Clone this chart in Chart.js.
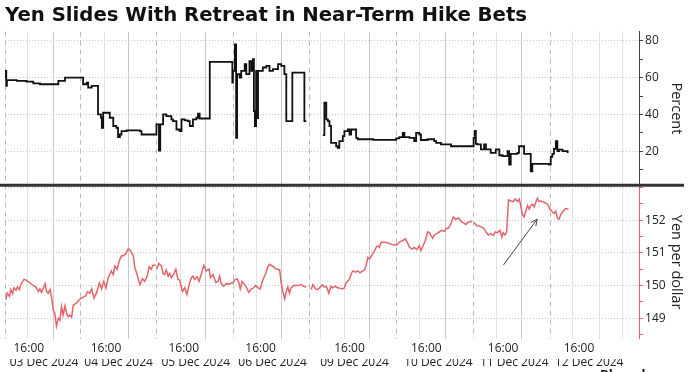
<!DOCTYPE html>
<html>
<head>
<meta charset="utf-8">
<title>Yen Slides With Retreat in Near-Term Hike Bets</title>
<script src="https://cdn.jsdelivr.net/npm/chart.js@4.4.1/dist/chart.umd.min.js"></script>
<style>
  html, body { margin: 0; padding: 0; background: #fff; }
  #wrap { width: 691px; height: 372px; position: relative; }
</style>
</head>
<body>
<div id="wrap"><canvas id="yen-chart"></canvas></div>
<script>
// x values are trading hours counted from the first session (weekend left out)

// odds of a near-term BOJ hike, percent (step series)
const pctHours = [
  0, 0.2, 0.4, 0.6, 3.7, 6.8, 8.9, 11.0, 16.8, 18.9,
  24.6, 25.7, 26.2, 27.3, 29.3, 30.2, 30.5, 30.9, 33.0, 34.1,
  35.1, 35.6, 36.2, 36.7, 38.3, 42.5, 43.0, 47.7, 48.5, 48.9,
  49.8, 50.8, 52.4, 52.9, 54.0, 55.0, 55.6, 56.6, 57.6, 58.2,
  59.2, 60.3, 60.8, 61.3, 64.5, 71.6, 71.8, 72.4, 72.8, 73.1,
  73.9, 74.4, 75.5, 76.0, 77.0, 77.6, 78.1, 78.4, 78.7, 79.1,
  79.4, 79.7, 81.2, 82.3, 83.3, 84.4, 86.0, 87.0, 88.0, 88.6,
  90.5, 94.3, 94.9, 95.0,
  100.1, 100.6, 101.2, 101.7, 102.2, 102.7, 104.3, 104.8, 105.3, 106.4,
  106.9, 108.0, 108.5, 109.0, 110.6, 111.1, 116.0, 123.2, 124.2, 125.3,
  125.8, 127.4, 128.9, 129.5, 130.5, 131.0, 133.1, 135.2, 135.8, 137.3,
  140.5, 147.6, 148.0, 148.3, 148.8, 149.9, 150.9, 151.5, 153.0, 154.6,
  155.7, 156.7, 158.3, 158.8, 159.3, 161.4, 161.9, 163.5, 165.6, 166.1,
  171.4, 171.9, 172.4, 172.9, 173.5, 174.0, 174.5, 175.6, 177.2
];
const pctValues = [
  60.0, 63.7, 55.5, 58.6, 58.2, 57.8, 56.9, 56.4, 58.2, 60.0,
  56.4, 57.3, 54.6, 55.5, 40.0, 38.2, 32.7, 40.9, 38.2, 33.7,
  32.7, 27.7, 29.1, 30.9, 31.3, 30.9, 29.1, 34.6, 20.4, 34.6,
  40.0, 39.1, 37.3, 36.4, 31.8, 30.9, 37.3, 36.8, 36.4, 33.7,
  37.3, 38.2, 40.4, 37.8, 68.6, 57.3, 63.7, 78.0, 27.3, 61.9,
  60.0, 63.7, 67.3, 61.9, 69.0, 63.7, 70.0, 41.8, 33.7, 63.7,
  38.0, 63.7, 65.5, 66.4, 63.7, 64.6, 67.3, 66.4, 61.9, 36.4,
  62.7, 36.4, 36.4, null,
  28.7, 46.4, 37.3, 36.4, 33.7, 24.5, 22.7, 21.8, 25.5, 28.2,
  30.9, 31.8, 29.1, 31.8, 27.3, 26.5, 26.2, 27.0, 27.7, 30.0,
  27.7, 27.3, 25.5, 30.0, 29.1, 26.1, 26.5, 25.5, 24.5, 23.7,
  22.7, 27.3, 31.0, 24.0, 23.7, 21.0, 23.7, 21.0, 19.1, 21.0,
  17.8, 17.3, 20.0, 12.7, 18.6, 19.1, 22.7, 18.6, 9.1, 13.1,
  12.7, 17.0, 18.6, 21.3, 25.5, 20.0, 20.9, 20.0, 19.1
];

// USD/JPY, yen per dollar
const fxHours = [
  0.3, 0.7, 1.4, 1.8, 2.4, 2.8, 3.5, 3.9, 4.5, 5.2,
  6.0, 6.8, 7.9, 8.9, 9.7, 10.5, 11.0, 11.5, 12.1, 12.6,
  13.1, 13.6, 14.2, 14.7, 15.2, 15.7, 16.2, 16.8, 17.3, 17.8,
  18.3, 18.9, 19.4, 19.9, 20.4, 21.0, 21.5, 22.5, 23.6, 24.6,
  25.5, 25.9, 26.7, 27.3, 28.0, 28.8, 29.7, 30.4, 31.1, 31.8,
  32.5, 33.5, 34.1, 34.6, 35.3, 36.0, 36.7, 37.4, 38.1, 38.8,
  39.5, 40.4, 40.9, 41.6, 42.5, 43.3, 44.0, 44.8, 45.4, 46.1,
  46.6, 47.5, 47.7, 47.9, 48.5, 49.3, 49.8, 50.3, 50.8, 51.4,
  51.9, 52.4, 53.1, 53.8, 54.5, 55.0, 55.9, 56.6, 57.3, 58.0,
  58.7, 59.2, 59.7, 60.5, 61.1, 61.8, 62.6, 63.4, 64.3, 64.7,
  65.5, 66.4, 67.1, 67.6, 68.1, 68.9, 69.7, 70.8, 71.3, 71.8,
  72.3, 73.1, 73.7, 74.1, 74.7, 75.5, 76.0, 76.8, 77.6, 78.3,
  78.9, 79.7, 80.4, 81.2, 82.1, 82.8, 83.3, 84.2, 85.2, 86.5,
  87.0, 87.5, 88.1, 88.6, 89.1, 89.6, 90.1, 90.9, 92.2, 93.3,
  94.0, 94.9, 95.5, 96.4, 97.0, 97.8, 98.5, 99.3, 99.9, 100.6,
  101.2, 102.0, 102.7, 103.2, 104.1, 104.8, 105.3, 106.2, 106.9, 107.4,
  108.3, 109.0, 109.5, 110.4, 111.1, 111.8, 112.7, 113.2, 113.7, 114.3,
  114.8, 115.3, 115.8, 116.4, 116.9, 117.4, 117.9, 118.5, 119.5, 120.5,
  121.6, 122.6, 123.4, 124.2, 125.3, 126.1, 126.8, 127.4, 128.2, 128.9,
  129.7, 130.5, 131.0, 131.8, 132.4, 133.1, 133.7, 134.2, 134.7, 135.2,
  136.0, 136.8, 137.6, 138.4, 138.9, 139.7, 140.5, 141.2, 142.0, 142.9,
  143.6, 144.3, 145.2, 145.7, 146.4, 147.1, 147.4, 147.8, 148.5, 149.4,
  150.2, 150.9, 151.5, 152.3, 153.0, 153.8, 154.4, 155.1, 155.9, 156.5,
  156.9, 157.5, 158.0, 158.6, 159.3, 160.1, 160.7, 161.4, 162.0, 162.5,
  163.0, 163.5, 164.0, 164.6, 165.1, 165.6, 166.1, 166.7, 167.2, 167.7,
  168.2, 168.8, 169.8, 170.9, 171.6, 172.4, 173.0, 173.5, 174.0, 174.5,
  175.1, 175.8, 176.6, 177.5
];
const fxValues = [
  149.56, 149.77, 149.67, 149.88, 149.75, 149.93, 149.86, 149.96, 149.88, 150.08,
  150.19, 150.16, 150.08, 150.00, 149.96, 149.82, 149.90, 149.79, 149.93, 150.06,
  149.82, 149.77, 149.88, 149.62, 149.25, 149.15, 148.76, 149.00, 148.94, 149.36,
  149.10, 149.38, 149.15, 149.05, 149.10, 149.03, 149.41, 149.46, 149.59, 149.65,
  149.69, 149.81, 149.77, 149.90, 149.62, 149.77, 150.08, 149.90, 150.13, 149.93,
  150.24, 150.45, 150.34, 150.60, 150.50, 150.76, 150.91, 150.91, 150.99, 151.12,
  151.07, 150.91, 150.55, 150.34, 150.03, 150.21, 150.13, 150.29, 150.58, 150.50,
  150.62, 150.62, null, 150.52, 150.68, 150.60, 150.37, 150.34, 150.48, 150.29,
  150.37, 150.24, 150.34, 150.50, 150.19, 150.17, 149.82, 149.93, 149.72, 150.03,
  150.24, 150.29, 150.19, 150.27, 150.13, 150.34, 150.62, 150.45, 150.50, 150.24,
  150.34, 150.10, 150.13, 150.29, 150.06, 149.98, 150.06, 150.05, 150.08, 150.08,
  150.17, 150.21, 150.08, 149.90, 150.13, 150.03, 149.96, 149.79, 149.90, 149.93,
  150.00, 149.93, 149.90, 150.17, 150.37, 150.58, 150.65, 150.60, 150.52, 150.48,
  150.08, 149.82, 149.59, 149.82, 149.96, 149.77, 149.93, 150.00, 150.00, 150.03,
  149.98, 149.96, null, 149.88, 150.03, 149.90, 149.88, 149.96, 150.03, 149.96,
  149.98, 149.77, 149.98, 149.93, 149.98, 149.93, 149.93, 149.90, 149.93, 150.08,
  150.17, 150.34, 150.45, 150.41, 150.45, 150.39, 150.45, 150.48, 150.60, 150.86,
  150.81, 150.89, 150.96, 151.07, 151.17, 151.22, 151.17, 151.33, 151.33, 151.31,
  151.27, 151.24, 151.24, 151.33, 151.38, 151.43, 151.31, 151.17, 151.12, 151.17,
  151.10, 151.22, 151.07, 151.24, 151.38, 151.64, 151.62, 151.53, 151.45, 151.55,
  151.59, 151.64, 151.69, 151.66, 151.74, 151.76, 151.90, 152.10, 152.03, 152.07,
  151.97, 151.93, 151.87, 151.93, 151.95, 151.97, null, 151.93, 151.84, 151.82,
  151.79, 151.74, 151.64, 151.55, 151.59, 151.53, 151.64, 151.62, 151.69, 151.48,
  151.62, 151.55, 151.64, 152.62, 152.59, 152.57, 152.65, 152.57, 152.65, 152.41,
  152.18, 152.10, 152.26, 152.45, 152.34, 152.45, 152.49, 152.41, 152.55, 152.67,
  152.57, 152.59, 152.55, 152.49, 152.34, 152.26, 152.21, 152.28, 152.07, 152.03,
  152.18, 152.28, 152.36, 152.34
];

// axis ticks and labels
const timeTickHours = [7.5, 31.8, 56.3, 80.5, 108.5, 132.7, 156.9, 180.8];
const dateTickHours = [12.3, 35.8, 60.1, 84.3, 110.1, 136.5, 160.4, 184.0];
const dateLabels = ['03 Dec 2024', '04 Dec 2024', '05 Dec 2024', '06 Dec 2024',
  '09 Dec 2024', '10 Dec 2024', '11 Dec 2024', '12 Dec 2024'];
const pctTicks = [10, 20, 30, 40, 50, 60, 70, 80];
const fxTicks = [148.5, 149, 149.5, 150, 150.5, 151, 151.5, 152, 152.5, 153];

// vertical grid
const dayBreakHours = [0, 23.6, 47.5, 71.7, 95.6, 123.3, 147.5, 171.7];
const lightGridHours = [6.9, 31.1, 55.0, 79.2, 99.1, 106.9, 130.5, 154.7, 178.6, 187.1, 194.3];
const darkGridHours = [15.1, 38.7, 62.9, 86.8, 114.5, 138.7, 162.6];

// arrow drawn on the yen panel: [hour, yen]
const arrowFrom = [157.0, 150.63];
const arrowTo = [167.6, 152.03];

const labelFont = { family: '"Open Sans", sans-serif', size: 12 };
const timeLabelFont = { family: '"Open Sans", sans-serif', size: 12, lineHeight: 1.34 };
const dateLabelFont = { family: '"Open Sans", sans-serif', size: 12, lineHeight: 0.67 };
const axisTitleFont = { family: '"Open Sans", sans-serif', size: 14.5 };
const RED = '#e2646c';

function toPoints(xs, ys) {
  return xs.map((x, i) => ({ x, y: ys[i] }));
}

const decorations = {
  id: 'decorations',
  beforeDatasetsDraw(chart) {
    const { ctx, chartArea, scales } = chart;
    const xs = scales.x;
    const lines = (hours, color, dash) => {
      ctx.save();
      ctx.strokeStyle = color;
      ctx.lineWidth = 1;
      ctx.setLineDash(dash);
      hours.forEach(h => {
        const px = Math.round(xs.getPixelForValue(h)) + 0.5;
        ctx.beginPath();
        ctx.moveTo(px, chartArea.top);
        ctx.lineTo(px, chartArea.bottom);
        ctx.stroke();
      });
      ctx.restore();
    };
    lines(lightGridHours, '#e3e3e3', []);
    lines(darkGridHours, '#c9c9c9', []);
    lines(dayBreakHours, '#bbbbbb', [5, 4]);
  },
  afterDraw(chart) {
    const { ctx, scales } = chart;
    const top = scales.y.top < scales.y2.top ? scales.y : scales.y2;

    // separator between the two panels
    ctx.save();
    ctx.strokeStyle = '#333';
    ctx.lineWidth = 3;
    ctx.beginPath();
    ctx.moveTo(0, top.bottom);
    ctx.lineTo(chart.width - 7, top.bottom);
    ctx.stroke();

    // arrow
    const x1 = scales.x.getPixelForValue(arrowFrom[0]);
    const y1 = scales.y2.getPixelForValue(arrowFrom[1]);
    const x2 = scales.x.getPixelForValue(arrowTo[0]);
    const y2 = scales.y2.getPixelForValue(arrowTo[1]);
    const ang = Math.atan2(y2 - y1, x2 - x1);
    ctx.strokeStyle = '#444';
    ctx.lineWidth = 1;
    ctx.beginPath();
    ctx.moveTo(x1, y1);
    ctx.lineTo(x2, y2);
    ctx.moveTo(x2 - 7 * Math.cos(ang - 0.45), y2 - 7 * Math.sin(ang - 0.45));
    ctx.lineTo(x2, y2);
    ctx.lineTo(x2 - 7 * Math.cos(ang + 0.45), y2 - 7 * Math.sin(ang + 0.45));
    ctx.stroke();

    // source line, cut off at the bottom edge
    ctx.fillStyle = '#111';
    ctx.font = 'bold 13px "Open Sans", sans-serif';
    ctx.textBaseline = 'alphabetic';
    ctx.fillText('Bloomberg', 600, 379);
    ctx.restore();
  }
};

new Chart(document.getElementById('yen-chart'), {
  type: 'line',
  data: {
    datasets: [
      {
        label: 'Percent',
        data: toPoints(pctHours, pctValues),
        yAxisID: 'y',
        stepped: true,
        borderColor: '#111',
        borderWidth: 1.8,
        pointRadius: 0,
        spanGaps: false
      },
      {
        label: 'Yen per dollar',
        data: toPoints(fxHours, fxValues),
        yAxisID: 'y2',
        borderColor: RED,
        borderWidth: 1.5,
        pointRadius: 0,
        tension: 0,
        spanGaps: false
      }
    ]
  },
  options: {
    responsive: true,
    maintainAspectRatio: false,
    animation: false,
    layout: { padding: { left: 5, right: 4, top: 0, bottom: 5 } },
    plugins: {
      legend: { display: false },
      tooltip: { enabled: false },
      title: {
        display: true,
        text: 'Yen Slides With Retreat in Near-Term Hike Bets',
        align: 'start',
        color: '#111',
        font: { family: '"DejaVu Sans", sans-serif', size: 19.7, weight: 'bold' },
        padding: { top: 4, bottom: 4 }
      }
    },
    scales: {
      x: {
        type: 'linear',
        position: 'bottom',
        min: 0,
        max: 199.7,
        grid: { display: false, drawTicks: false },
        border: { display: false },
        afterBuildTicks: axis => { axis.ticks = timeTickHours.map(value => ({ value })); },
        ticks: {
          autoSkip: false, maxRotation: 0, padding: 2,
          color: '#222', font: timeLabelFont,
          callback: () => '16:00'
        }
      },
      x2: {
        type: 'linear',
        position: 'bottom',
        min: 0,
        max: 199.7,
        grid: { display: false, drawTicks: false },
        border: { display: false },
        afterBuildTicks: axis => { axis.ticks = dateTickHours.map(value => ({ value })); },
        ticks: {
          autoSkip: false, maxRotation: 0, padding: 0,
          color: '#222', font: dateLabelFont,
          callback: (v, i) => dateLabels[i]
        }
      },
      y: {
        type: 'linear',
        position: 'right',
        stack: 'panels',
        stackWeight: 1,
        min: 1.5,
        max: 85,
        afterBuildTicks: axis => { axis.ticks = pctTicks.map(value => ({ value })); },
        grid: {
          color: c => (c.tick && c.tick.value % 20 === 0) ? '#c6c6c6' : 'rgba(0,0,0,0)',
          tickColor: '#444',
          tickLength: 4
        },
        border: { color: '#444', dash: [1, 2] },
        ticks: {
          autoSkip: false,
          padding: 2, color: '#222', font: labelFont,
          callback: v => (v % 20 === 0 ? String(v) : '')
        },
        title: { display: true, text: 'Percent', color: '#222', font: axisTitleFont, padding: { top: 2, bottom: 0 } }
      },
      y2: {
        type: 'linear',
        position: 'right',
        stack: 'panels',
        stackWeight: 1,
        min: 148.37,
        max: 153.07,
        afterBuildTicks: axis => { axis.ticks = fxTicks.map(value => ({ value })); },
        grid: {
          color: c => (c.tick && Number.isInteger(c.tick.value)) ? '#c6c6c6' : 'rgba(0,0,0,0)',
          tickColor: RED,
          tickLength: 4
        },
        border: { color: RED, dash: [1, 2] },
        ticks: {
          autoSkip: false,
          padding: 2, color: '#222', font: labelFont,
          callback: v => (Number.isInteger(v) && v < 153 ? String(v) : '')
        },
        title: { display: true, text: 'Yen per dollar', color: '#222', font: axisTitleFont, padding: { top: 2, bottom: 0 } }
      }
    }
  },
  plugins: [decorations]
});
</script>
</body>
</html>
